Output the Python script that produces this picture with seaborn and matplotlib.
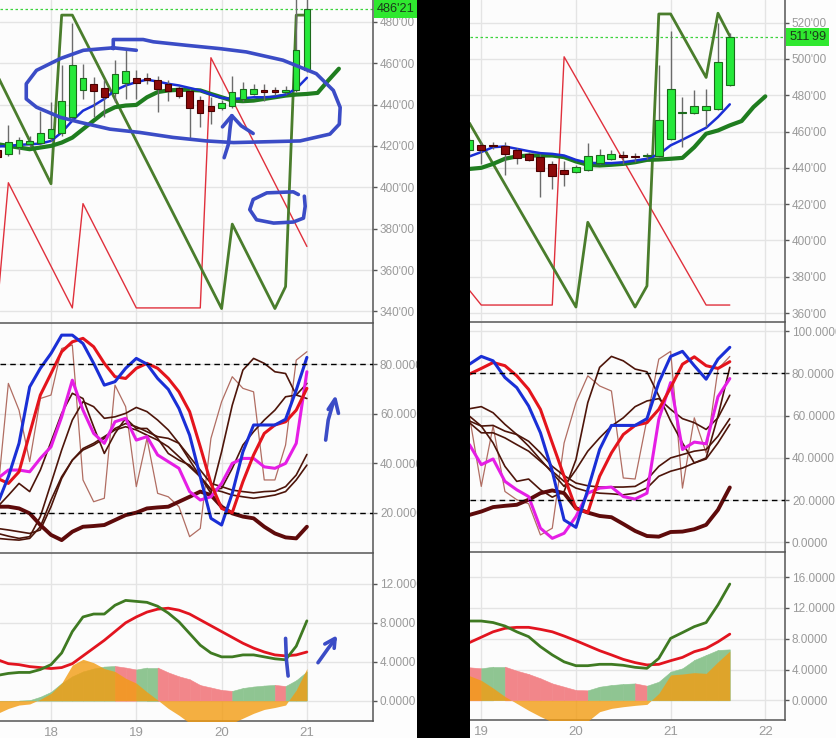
import numpy as np
import matplotlib
matplotlib.use("Agg")
import matplotlib.pyplot as plt
import matplotlib.transforms as mtransforms
from matplotlib.patches import Rectangle
from matplotlib.ticker import FuncFormatter
import seaborn as sns

# ---------------- left snapshot (3h candles, 17.375 .. 21.0) ----------------
left_t = np.arange(17.375, 21.01, 0.125)
left_open = [417.9, 416.0, 419.5, 420.8, 421.6, 423.7, 426.2, 433.8, 446.8, 449.7,
             448.1, 445.6, 450.5, 452.9, 452.4, 451.9, 450.0, 447.9, 446.4, 442.2,
             439.1, 438.3, 439.5, 442.7, 445.1, 446.6, 446.5, 445.9, 446.8, 456.5]
left_close = [414.6, 422.1, 422.8, 422.4, 426.2, 428.1, 441.9, 458.9, 452.9, 446.4,
              443.5, 454.9, 456.0, 450.5, 452.0, 447.6, 446.3, 444.3, 438.3, 435.7,
              437.0, 440.8, 445.9, 447.6, 447.6, 446.2, 446.1, 447.1, 466.2, 486.2]
left_high = [419.5, 430.2, 424.5, 424.9, 436.7, 441.0, 458.9, 479.2, 459.7, 453.2,
             452.0, 461.7, 466.2, 456.5, 455.0, 454.0, 452.0, 449.0, 447.6, 444.3,
             443.5, 442.0, 453.6, 450.8, 450.0, 450.0, 448.5, 449.0, 495.0, 495.0]
left_low = [413.5, 415.0, 416.3, 419.5, 420.5, 422.5, 425.0, 433.0, 442.7, 433.8,
            433.8, 441.0, 442.7, 442.7, 450.0, 436.2, 441.9, 443.0, 424.0, 428.9,
            430.5, 437.5, 438.5, 441.9, 444.5, 441.9, 444.5, 445.0, 446.0, 455.5]
left_last = 486.21
left_ma_fast = [419.7, 420.0, 420.5, 420.8, 421.1, 422.4, 426.5, 432.2, 437.0, 439.5,
                442.7, 446.8, 449.2, 450.8, 452.0, 451.1, 450.0, 449.2, 448.0, 446.8,
                444.8, 443.2, 442.7, 443.0, 443.5, 443.5, 443.8, 444.8, 447.6, 452.9]
left_ma_slow_t = np.arange(17.375, 21.4, 0.125)
left_ma_slow = [420.8, 420.0, 419.2, 418.4, 419.2, 420.0, 421.6, 424.0, 428.1, 432.2,
                436.2, 438.7, 439.5, 439.8, 443.5, 446.0, 446.8, 447.1, 447.1, 446.8,
                445.1, 443.5, 441.9, 441.6, 441.9, 442.7, 443.5, 444.3, 444.8, 445.1,
                445.6, 451.6, 457.3]
left_zz_green_t = [17.375, 18.0, 18.125, 18.25, 20.0, 20.125, 20.625, 20.75, 20.875, 21.0]
left_zz_green = [453.7, 401.7, 483.2, 483.2, 341.4, 382.2, 341.4, 352.0, 483.2, 483.2]
left_zz_red_t = [17.375, 17.5, 18.25, 18.375, 19.0, 19.75, 19.875, 21.0]
left_zz_red = [344.2, 402.2, 341.7, 392.1, 341.7, 341.7, 462.6, 371.4]

left_osc_blue = [23.7, 34.5, 48.0, 70.8, 78.3, 84.3, 91.7, 91.7, 88.3, 80.3, 71.5, 72.9,
                 78.3, 82.3, 80.0, 74.2, 69.8, 62.1, 51.3, 34.5, 17.7, 15.0, 27.8, 44.6,
                 55.4, 55.4, 55.4, 57.7, 69.5, 82.7]
left_osc_red = [33.8, 31.8, 36.5, 52.0, 67.5, 76.2, 85.0, 89.0, 90.4, 87.0, 80.3, 74.9,
                74.2, 78.3, 80.3, 78.3, 74.2, 68.8, 60.8, 46.6, 31.8, 21.7, 20.0, 32.5,
                43.3, 52.0, 55.4, 56.7, 61.4, 70.2]
left_osc_magenta = [33.8, 37.2, 37.2, 36.5, 41.9, 46.6, 58.7, 73.5, 61.4, 52.0, 48.0, 56.7,
                    58.1, 49.3, 50.7, 43.3, 40.6, 37.9, 28.5, 25.1, 26.4, 31.8, 39.9, 41.9,
                    41.9, 38.5, 37.9, 39.9, 48.0, 76.9]
left_osc_maroon = [22.4, 22.4, 21.7, 19.7, 15.0, 11.0, 8.9, 12.3, 14.3, 14.6, 15.0, 17.0,
                   19.0, 20.0, 21.7, 22.1, 22.4, 24.4, 26.4, 28.5, 27.1, 22.4, 19.7, 18.4,
                   17.7, 14.3, 11.6, 10.0, 9.6, 14.3]
left_osc_light = [27.8, 72.2, 61.4, 40.6, 66.1, 67.5, 86.3, 87.7, 33.2, 24.4, 25.8, 71.5,
                  62.8, 30.5, 50.0, 27.8, 26.4, 22.4, 10.3, 13.6, 50.0, 64.8, 74.9, 70.2,
                  68.8, 33.2, 33.2, 47.3, 81.6, 85.0]
left_osc_brown = [
    [11.6, 10.5, 9.6, 10.3, 18.4, 31.8, 45.3, 57.4, 64.8, 62.8, 58.1, 58.7, 60.1, 62.5,
     60.8, 57.4, 53.4, 48.0, 41.2, 34.5, 27.8, 44.6, 63.4, 77.6, 82.3, 80.3, 76.9, 76.2,
     67.5, 72.2],
    [22.4, 27.0, 31.8, 28.5, 37.2, 48.6, 60.1, 68.2, 66.1, 54.7, 43.9, 52.0, 58.1, 54.0,
     54.0, 50.0, 43.9, 41.2, 39.2, 34.5, 29.1, 29.8, 37.9, 47.3, 52.7, 57.4, 61.4, 66.8,
     67.5, 66.1],
    [13.6, 13.0, 12.3, 11.6, 13.0, 22.4, 33.8, 41.2, 45.3, 47.3, 50.0, 54.0, 56.0, 54.7,
     52.7, 50.7, 50.0, 48.0, 42.6, 37.2, 31.8, 30.5, 29.1, 28.5, 28.0, 28.5, 28.7, 30.5,
     35.2, 43.5],
    [9.6, 9.2, 8.9, 9.6, 14.3, 25.1, 34.5, 41.2, 45.9, 48.0, 50.7, 53.4, 54.7, 53.4, 51.3,
     49.3, 46.6, 42.6, 38.5, 34.5, 29.5, 28.5, 27.1, 26.4, 25.8, 26.4, 27.1, 28.5, 33.2,
     39.2],
]

left_macd = [2.6, 2.8, 2.9, 2.9, 3.2, 3.7, 4.9, 7.1, 8.6, 8.9, 8.9, 9.8, 10.3, 10.2, 10.1,
             9.7, 9.0, 8.1, 6.9, 5.7, 4.9, 4.5, 4.5, 4.7, 4.7, 4.5, 4.3, 4.2, 5.6, 8.2]
left_signal = [4.2, 3.8, 3.7, 3.5, 3.4, 3.3, 3.4, 3.8, 4.6, 5.4, 6.2, 7.1, 8.0, 8.6, 9.1,
               9.4, 9.5, 9.3, 8.9, 8.3, 7.7, 7.1, 6.5, 5.9, 5.4, 5.0, 4.7, 4.6, 4.7, 5.0]
left_hist = [0.0, 0.0, 0.0, 0.05, 0.4, 0.9, 1.8, 2.5, 3.0, 3.3, 3.5, 3.56, 3.4, 3.2, 3.4,
             3.4, 2.9, 2.5, 2.2, 1.6, 1.35, 1.1, 1.0, 1.3, 1.45, 1.55, 1.62, 1.5, 2.1, 3.0]
left_orange = [-1.3, -0.8, -0.45, -0.34, 0.14, 0.75, 1.8, 3.66, 4.25, 3.9, 3.3, 3.0, 2.3,
               1.8, 0.9, 0.07, -0.8, -1.5, -2.3, -2.4, -2.4, -2.4, -2.3, -1.8, -1.3, -0.9,
               -0.7, -0.45, 1.1, 3.3]

# hand-drawn blue marks on the left snapshot (data units of each panel)
mark_loop_x = [18.73, 18.73, 19.08, 19.20, 19.59, 19.98, 20.29, 20.72, 21.11, 21.31, 21.39,
               21.38, 21.27, 20.92, 20.14, 19.82, 19.43, 19.04, 18.69, 18.34, 18.11, 17.83,
               17.71, 17.71, 17.83, 18.11, 18.38, 18.73, 19.00]
mark_loop_y = [467.0, 471.4, 471.4, 470.3, 468.6, 467.0, 465.4, 461.4, 454.9, 446.8, 438.6,
               430.5, 425.7, 422.4, 421.6, 422.4, 424.1, 426.5, 428.1, 431.4, 433.8, 438.7,
               442.7, 450.0, 456.5, 462.2, 466.2, 467.4, 466.2]
mark_arrow_x = [20.03, 20.08, 20.10, 20.12]
mark_arrow_y = [414.3, 420.8, 428.9, 434.6]
mark_head_x = [20.01, 20.12, 20.23, 20.37]
mark_head_y = [429.2, 434.6, 429.7, 426.0]
mark_c_x = [20.90, 20.84, 20.53, 20.37, 20.33, 20.41, 20.61, 20.84, 20.96, 20.98, 20.97]
mark_c_y = [396.5, 397.8, 397.3, 394.1, 389.2, 384.3, 382.7, 383.2, 385.1, 390.8, 395.7]
mark_osc_x = [21.22, 21.25, 21.30, 21.33]
mark_osc_y = [49.3, 57.4, 63.4, 65.5]
mark_osc_head_x = [21.25, 21.33, 21.37]
mark_osc_head_y = [61.7, 65.9, 60.1]
mark_macd_bar_x = [20.75, 20.76, 20.78]
mark_macd_bar_y = [6.4, 4.18, 2.53]
mark_macd_x = [21.13, 21.25, 21.33]
mark_macd_y = [3.9, 5.38, 6.3]
mark_macd_head_x = [21.21, 21.33, 21.32]
mark_macd_head_y = [5.82, 6.4, 5.38]

# ---------------- right snapshot (3h candles, 18.875 .. 21.625) ----------------
right_t = np.arange(18.875, 21.65, 0.125)
right_open = [450.0, 452.7, 452.2, 452.0, 450.0, 447.7, 445.9, 442.2, 438.9, 437.6, 438.9,
              442.8, 445.0, 446.5, 446.1, 446.4, 446.5, 456.0, 470.0, 470.2, 472.1, 472.6,
              485.5]
right_close = [455.1, 450.0, 451.8, 447.7, 445.5, 444.4, 438.2, 435.4, 436.7, 440.4, 446.3,
               447.2, 447.4, 446.1, 445.8, 446.8, 466.2, 483.7, 470.4, 474.1, 473.9, 498.1,
               512.0]
right_high = [456.5, 454.0, 454.5, 454.2, 451.0, 448.5, 447.7, 443.5, 443.5, 441.5, 453.6,
              450.5, 450.0, 449.5, 448.0, 448.0, 496.6, 515.6, 479.0, 483.0, 483.7, 520.0,
              514.5]
right_low = [446.0, 442.0, 450.5, 435.8, 442.0, 443.5, 423.8, 428.4, 430.2, 437.0, 438.0,
             442.0, 444.5, 442.0, 443.0, 445.0, 446.0, 455.5, 451.4, 469.5, 462.5, 472.0,
             485.0]
right_last = 511.99
right_ma_fast = [446.3, 448.7, 451.4, 451.8, 450.5, 449.2, 448.1, 447.7, 446.8, 444.4, 442.8,
                 442.6, 442.6, 443.1, 444.0, 445.0, 447.4, 452.4, 455.5, 458.8, 462.1, 468.0,
                 475.0]
right_ma_slow_t = np.arange(18.875, 22.01, 0.125)
right_ma_slow = [439.4, 440.0, 442.2, 445.0, 446.3, 446.8, 446.8, 446.8, 445.9, 443.5, 441.7,
                 441.3, 441.7, 442.2, 443.1, 444.4, 444.6, 445.0, 445.5, 451.4, 458.8, 460.6,
                 463.4, 465.8, 473.5, 479.4]
right_zz_green_t = [18.875, 20.0, 20.125, 20.625, 20.75, 20.875, 21.0, 21.375, 21.5, 21.625]
right_zz_green = [464.7, 363.3, 410.0, 363.3, 374.9, 524.8, 524.8, 489.8, 525.2, 512.6]
right_zz_red_t = [18.875, 19.0, 19.75, 19.875, 21.375, 21.625]
right_zz_red = [372.5, 364.4, 364.4, 501.2, 364.4, 364.4]

right_osc_blue = [84.4, 88.1, 86.0, 78.1, 73.3, 64.6, 51.9, 33.7, 10.6, 7.1, 24.9, 44.0,
                  55.4, 55.4, 55.4, 58.6, 75.7, 88.1, 90.5, 83.7, 77.3, 86.8, 92.4]
right_osc_red = [79.7, 82.4, 85.2, 83.7, 78.9, 72.5, 63.0, 47.1, 31.3, 16.0, 14.1, 31.3,
                 42.4, 51.1, 55.4, 56.7, 63.0, 73.3, 84.4, 87.9, 83.7, 82.4, 85.6]
right_osc_magenta = [46.3, 36.8, 39.5, 28.9, 24.9, 21.7, 6.7, 1.9, 4.3, 12.2, 23.3, 25.7,
                     26.2, 21.7, 20.5, 23.3, 58.3, 75.7, 44.0, 47.5, 46.7, 69.0, 77.6]
right_osc_maroon = [13.0, 14.6, 16.7, 17.3, 17.8, 20.2, 23.3, 24.6, 23.3, 16.2, 14.1, 12.5,
                    11.9, 8.7, 5.4, 3.0, 2.7, 4.9, 5.1, 6.2, 8.3, 15.4, 26.0]
right_osc_light = [59.8, 26.5, 55.1, 24.1, 20.2, 18.3, 3.5, 6.7, 47.1, 66.2, 78.9, 74.1,
                   71.7, 30.5, 30.0, 58.3, 86.8, 90.5, 25.7, 59.0, 42.4, 82.1, 88.1]
right_osc_brown = [
    [59.8, 55.1, 47.1, 36.0, 28.9, 30.0, 24.9, 21.4, 24.1, 39.2, 66.2, 82.9, 88.1, 86.0,
     82.1, 80.8, 69.4, 57.5, 47.1, 37.6, 40.0, 59.8, 82.9],
    [63.3, 64.3, 61.4, 55.9, 51.1, 45.6, 39.2, 32.9, 26.5, 34.4, 43.2, 49.5, 55.1, 59.0,
     64.3, 67.0, 68.1, 63.0, 58.6, 56.7, 53.5, 59.0, 69.7],
    [57.5, 55.1, 55.4, 52.7, 51.1, 47.9, 42.4, 36.0, 31.6, 28.1, 26.8, 26.2, 26.2, 26.2,
     26.5, 29.7, 36.0, 40.0, 41.6, 43.2, 44.0, 50.3, 58.6],
    [56.7, 51.9, 51.9, 49.5, 46.3, 43.2, 38.4, 33.7, 28.9, 25.7, 24.1, 23.3, 23.0, 22.5,
     23.3, 25.7, 31.3, 33.7, 35.2, 37.6, 39.5, 47.1, 55.9],
]

right_macd = [10.3, 10.3, 10.1, 9.65, 8.9, 8.27, 6.97, 5.9, 5.0, 4.5, 4.5, 4.68, 4.68, 4.55,
              4.29, 4.16, 5.45, 8.05, 8.8, 9.57, 10.1, 12.4, 15.1]
right_signal = [7.5, 8.2, 8.9, 9.35, 9.48, 9.48, 9.22, 8.9, 8.35, 7.75, 7.1, 6.45, 5.9, 5.32,
                4.9, 4.6, 4.68, 5.15, 5.58, 6.32, 6.75, 7.6, 8.6]
right_hist = [4.29, 4.16, 4.37, 4.37, 3.85, 3.42, 2.86, 2.2, 1.77, 1.34, 1.3, 1.77, 1.99,
              2.12, 2.2, 1.9, 2.42, 3.72, 4.16, 5.24, 5.89, 6.54, 6.62]
right_orange = [3.2, 2.6, 1.6, 0.5, -0.4, -1.3, -2.1, -2.8, -3.0, -2.9, -2.7, -1.47, -1.04,
                -0.82, -0.65, -0.52, 0.9, 3.3, 3.42, 3.6, 3.5, 5.0, 6.4]

# ---------------- styling ----------------
sns.set_theme(style="whitegrid")
plt.rcParams['font.family'] = ['Liberation Sans', 'DejaVu Sans']

GRID = '#e4e4e4'
SPINE = '#555555'
TICKC = '#9a9a9a'
INK = '#3b4cc6'

price_fmt = FuncFormatter(lambda v, p: f"{v:.2f}".replace('.', "'"))
osc_fmt = FuncFormatter(lambda v, p: f"{v:.4f}")


def style(ax, xlim, ylim, yticks, fmt, xticks, bottom_labels, top_line):
    ax.set_facecolor('#fcfcfc')
    ax.set_xlim(*xlim)
    ax.set_ylim(*ylim)
    ax.set_xticks(xticks)
    ax.set_yticks(yticks)
    ax.yaxis.set_major_formatter(fmt)
    ax.yaxis.tick_right()
    ax.grid(True, color=GRID, lw=1)
    ax.set_axisbelow(True)
    ax.spines['left'].set_visible(False)
    ax.spines['right'].set_visible(True)
    ax.spines['right'].set_color(SPINE)
    ax.spines['top'].set_visible(top_line)
    ax.spines['top'].set_color(SPINE)
    ax.spines['bottom'].set_visible(bottom_labels)
    ax.spines['bottom'].set_color(SPINE)
    for s in ax.spines.values():
        s.set_linewidth(1.1)
    ax.tick_params(axis='y', direction='out', length=3, width=1, color=SPINE,
                   labelcolor=TICKC, labelsize=8.5, pad=2, left=False, right=True,
                   labelleft=False, labelright=True)
    ax.tick_params(axis='x', length=0, labelcolor=TICKC, labelsize=9.5, pad=4,
                   labelbottom=bottom_labels)
    ax.set_xlabel('')
    ax.set_ylabel('')


def candles(ax, t, o, h, l, c, width, min_h):
    t = np.asarray(t)
    o, h, l, c = (np.asarray(a, dtype=float) for a in (o, h, l, c))
    up = c >= o
    ax.vlines(t, l, h, color='#6b6b6b', lw=1, zorder=5)
    bottom = np.minimum(o, c)
    height = np.maximum(np.abs(c - o), min_h)
    ax.bar(t[up], height[up], width, bottom[up], color='#25e83a',
           edgecolor='#1c6a1c', lw=0.8, zorder=6)
    ax.bar(t[~up], height[~up], width, bottom[~up], color='#8c0a0a',
           edgecolor='#4a0000', lw=0.8, zorder=6)


def price_panel(ax, t, o, h, l, c, fast, slow_t, slow, zg_t, zg, zr_t, zr, last, width, min_h):
    sns.lineplot(x=zr_t, y=zr, ax=ax, color='#e0303c', lw=1.0, zorder=2)
    sns.lineplot(x=zg_t, y=zg, ax=ax, color='#4a7d2c', lw=2.0, zorder=2)
    sns.lineplot(x=slow_t, y=slow, ax=ax, color='#1f7d1f', lw=3.0, zorder=3)
    sns.lineplot(x=t, y=fast, ax=ax, color='#1a2fd6', lw=1.8, zorder=3)
    candles(ax, t, o, h, l, c, width, min_h)
    ax.axhline(last, color='#3bd43b', lw=0.9, ls=(0, (2, 2)), zorder=1)
    tr = mtransforms.blended_transform_factory(ax.transAxes, ax.transData)
    ax.annotate(f"{last:.2f}".replace('.', "'"), xy=(1, last), xycoords=tr,
                xytext=(3, 0), textcoords='offset points', ha='left', va='center',
                fontsize=9.2, color='#1b3a1b',
                bbox=dict(boxstyle='square,pad=0.22', fc='#2fe82f', ec='none'),
                annotation_clip=False, zorder=30)


def osc_panel(ax, t, blue, red, magenta, maroon, light, browns):
    sns.lineplot(x=t, y=light, ax=ax, color='#b06d62', lw=0.9, zorder=2)
    for b in browns:
        sns.lineplot(x=t, y=b, ax=ax, color='#4d150a', lw=1.2, zorder=2)
    sns.lineplot(x=t, y=maroon, ax=ax, color='#5e0b0b', lw=2.8, zorder=3)
    sns.lineplot(x=t, y=magenta, ax=ax, color='#e51ee5', lw=2.2, zorder=4)
    sns.lineplot(x=t, y=red, ax=ax, color='#e4141c', lw=2.2, zorder=4)
    sns.lineplot(x=t, y=blue, ax=ax, color='#1a2fd6', lw=2.2, zorder=4)
    for lvl in (80, 20):
        ax.axhline(lvl, color='black', lw=1, ls=(0, (4, 3)), zorder=5)


def macd_panel(ax, t, macd, signal, hist, orange):
    t = np.asarray(t)
    hist = np.asarray(hist)
    for i in range(len(t) - 1):
        col = '#8fc592' if hist[i + 1] >= hist[i] else '#f2868a'
        ax.fill_between(t[i:i + 2], 0, hist[i:i + 2], color=col, lw=0.4,
                        edgecolor=col, zorder=2)
    ax.fill_between(t, 0, orange, color='#f39c12', alpha=0.8, lw=0, zorder=3)
    sns.lineplot(x=t, y=signal, ax=ax, color='#e2141f', lw=2.0, zorder=4)
    sns.lineplot(x=t, y=macd, ax=ax, color='#3f7a22', lw=2.0, zorder=4)


W, H = 836, 738
fig = plt.figure(figsize=(W / 100, H / 100), dpi=100)
fig.patch.set_facecolor('#fdfdfd')


def rect(x0, x1, y0, y1):
    return [x0 / W, 1 - y1 / H, (x1 - x0) / W, (y1 - y0) / H]


axL = [fig.add_axes(rect(0, 373, 0, 322)),
       fig.add_axes(rect(0, 373, 323, 552)),
       fig.add_axes(rect(0, 373, 553, 721))]
axR = [fig.add_axes(rect(470, 785, 0, 321)),
       fig.add_axes(rect(470, 785, 322, 551)),
       fig.add_axes(rect(470, 785, 552, 720))]

# left snapshot
price_panel(axL[0], left_t, left_open, left_high, left_low, left_close, left_ma_fast,
            left_ma_slow_t, left_ma_slow, left_zz_green_t, left_zz_green,
            left_zz_red_t, left_zz_red, left_last, 0.075, 0.8)
osc_panel(axL[1], left_t, left_osc_blue, left_osc_red, left_osc_magenta,
          left_osc_maroon, left_osc_light, left_osc_brown)
macd_panel(axL[2], left_t, left_macd, left_signal, left_hist, left_orange)

# right snapshot
price_panel(axR[0], right_t, right_open, right_high, right_low, right_close, right_ma_fast,
            right_ma_slow_t, right_ma_slow, right_zz_green_t, right_zz_green,
            right_zz_red_t, right_zz_red, right_last, 0.085, 0.9)
osc_panel(axR[1], right_t, right_osc_blue, right_osc_red, right_osc_magenta,
          right_osc_maroon, right_osc_light, right_osc_brown)
macd_panel(axR[2], right_t, right_macd, right_signal, right_hist, right_orange)

# hand-drawn marks
ink = dict(color=INK, lw=2.6, solid_capstyle='round', solid_joinstyle='round', zorder=9)
axL[0].plot(mark_loop_x, mark_loop_y, **ink)
axL[0].plot(mark_arrow_x, mark_arrow_y, **ink)
axL[0].plot(mark_head_x, mark_head_y, **ink)
axL[0].plot(mark_c_x, mark_c_y, **ink)
axL[1].plot(mark_osc_x, mark_osc_y, **ink)
axL[1].plot(mark_osc_head_x, mark_osc_head_y, **ink)
axL[2].plot(mark_macd_bar_x, mark_macd_bar_y, **ink)
axL[2].plot(mark_macd_x, mark_macd_y, **ink)
axL[2].plot(mark_macd_head_x, mark_macd_head_y, **ink)

left_days = [18, 19, 20, 21]
right_days = [19, 20, 21, 22]
style(axL[0], (17.402, 21.775), (334.9, 490.5), np.arange(340, 481, 20), price_fmt,
      left_days, False, False)
style(axL[1], (17.402, 21.775), (4.1, 96.6), [20, 40, 60, 80], osc_fmt,
      left_days, False, True)
style(axL[2], (17.402, 21.775), (-2.09, 15.17), [0, 4, 8, 12], osc_fmt,
      left_days, True, True)
style(axR[0], (18.881, 22.208), (355.6, 532.5), np.arange(360, 521, 20), price_fmt,
      right_days, False, False)
style(axR[1], (18.881, 22.208), (-4.1, 104.4), [0, 20, 40, 60, 80, 100], osc_fmt,
      right_days, False, True)
style(axR[2], (18.881, 22.208), (-2.55, 19.26), [0, 4, 8, 12, 16], osc_fmt,
      right_days, True, True)

# black divider between the two snapshots
fig.add_artist(Rectangle((417 / W, 0), 53 / W, 1, transform=fig.transFigure,
                         facecolor='black', edgecolor='none', zorder=100))

fig.savefig('out.png', dpi=100, facecolor=fig.get_facecolor())
